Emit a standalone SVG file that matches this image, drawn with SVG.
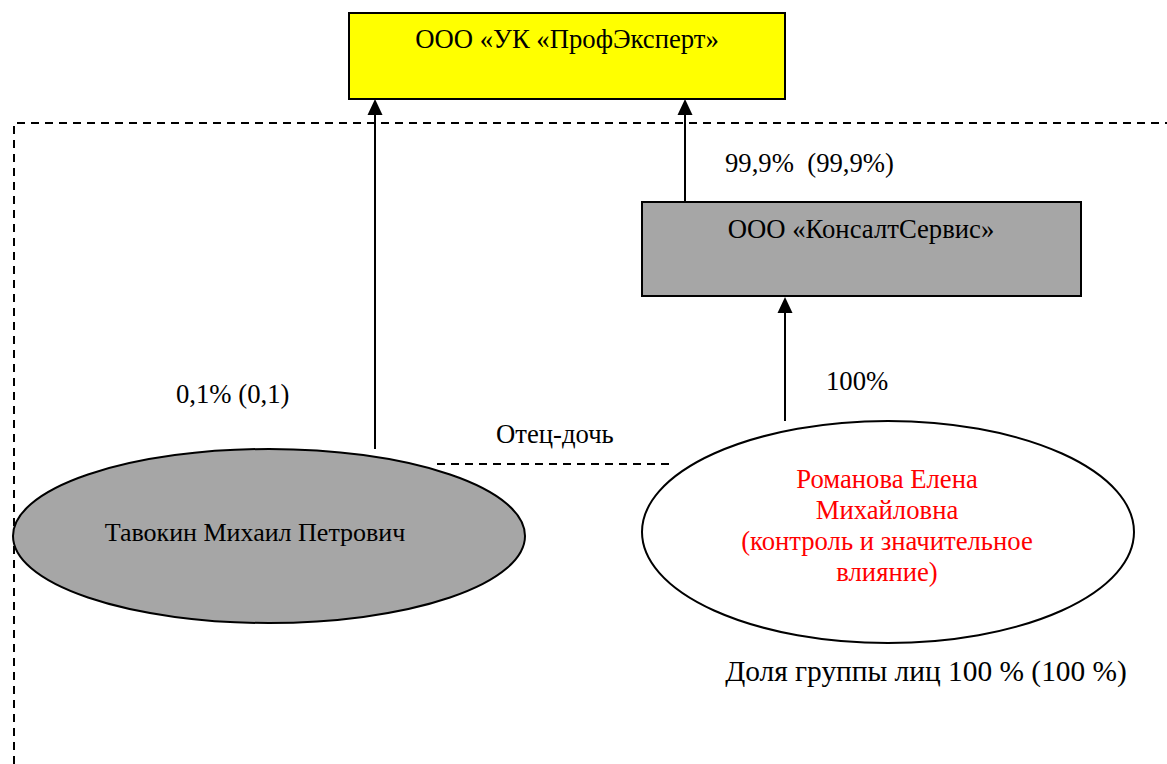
<svg xmlns="http://www.w3.org/2000/svg" width="1167" height="764" viewBox="0 0 1167 764">
<style>
.t{font-family:'Liberation Serif','Times New Roman',serif;font-size:26.7px;fill:#000;white-space:pre}
.big{font-size:29.4px}
.mid{font-size:26px}
.red{fill:#ff0000}
.box{stroke:#000;stroke-width:2}
.dash{stroke:#000;stroke-width:2;stroke-dasharray:8 6;fill:none}
.ln{stroke:#000;stroke-width:2;fill:none}
.ah{fill:#000}
</style>
<rect width="1167" height="764" fill="#fff"/>
<g id="connectors">
<path class="dash" d="M14,764 L14,123 L1167,123"/>
<path class="dash" d="M437,464 L670,464"/>
<line class="ln" x1="375" y1="449" x2="375" y2="112"/>
<polygon class="ah" points="375,99 367.5,115 382.5,115"/>
<line class="ln" x1="685" y1="202" x2="685" y2="112"/>
<polygon class="ah" points="685,99 677.5,115 692.5,115"/>
<line class="ln" x1="785" y1="421" x2="785" y2="310"/>
<polygon class="ah" points="785,297 777.5,313 792.5,313"/>
<text class="t" x="725" y="172" xml:space="preserve">99,9%  (99,9%)</text>
<text class="t" x="826" y="390">100%</text>
<text class="t" x="176" y="403">0,1% (0,1)</text>
<text class="t" x="496" y="443">Отец-дочь</text>
</g>
<g id="uk">
<rect class="box" x="349" y="13" width="436" height="86" fill="#ffff00"/>
<text class="t" x="567" y="48" text-anchor="middle">ООО «УК «ПрофЭксперт»</text>
</g>
<g id="konsalt">
<rect class="box" x="642" y="202" width="439" height="94" fill="#a6a6a6"/>
<text class="t" x="861" y="238" text-anchor="middle">ООО «КонсалтСервис»</text>
</g>
<g id="tavokin">
<ellipse class="box" cx="269" cy="536" rx="256" ry="87" fill="#a6a6a6"/>
<text class="t mid" x="255" y="541" text-anchor="middle">Тавокин Михаил Петрович</text>
</g>
<g id="romanova">
<ellipse class="box" cx="888" cy="532" rx="246" ry="111" fill="#fff"/>
<text class="t red" text-anchor="middle"><tspan x="887" y="488">Романова Елена</tspan><tspan x="887" y="519">Михайловна</tspan><tspan x="887" y="550">(контроль и значительное</tspan><tspan x="887" y="581">влияние)</tspan></text>
<text class="t big" x="926" y="681" text-anchor="middle">Доля группы лиц 100 % (100 %)</text>
</g>
</svg>
